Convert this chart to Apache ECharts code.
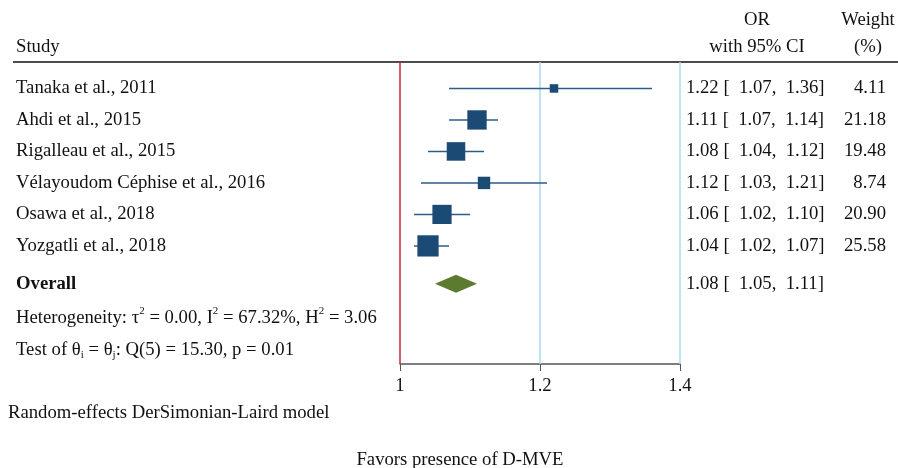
<!DOCTYPE html>
<html>
<head>
<meta charset="utf-8">
<script src="https://cdn.jsdelivr.net/npm/echarts@6/dist/echarts.min.js"></script>
<style>
  html, body { margin: 0; padding: 0; background: #fff; }
  #chart { width: 898px; height: 468px; }
</style>
</head>
<body>
<div id="chart"></div>
<script>
const studies = [
  'Tanaka et al., 2011',
  'Ahdi et al., 2015',
  'Rigalleau et al., 2015',
  'Vélayoudom Céphise et al., 2016',
  'Osawa et al., 2018',
  'Yozgatli et al., 2018'
];
const oddsRatios = [1.22, 1.11, 1.08, 1.12, 1.06, 1.04];
const lowerCI = [1.07, 1.07, 1.04, 1.03, 1.02, 1.02];
const upperCI = [1.36, 1.14, 1.12, 1.21, 1.10, 1.07];
const weights = [4.11, 21.18, 19.48, 8.74, 20.90, 25.58];
const rowPos = [1, 2, 3, 4, 5, 6];

const overallOR = 1.08;
const overallLo = 1.05;
const overallHi = 1.11;
const overallRow = 7.2;

const xTicks = [1, 1.2, 1.4];

const FONT = '"Liberation Serif", "Times New Roman", serif';
const FS = 18.7;
const SQUARE = '#1b4a74';
const CI_LINE = '#2c5d88';
const DIAMOND = '#5b7b2f';

const fmtCI = (o, l, h) => o.toFixed(2) + ' [  ' + l.toFixed(2) + ',  ' + h.toFixed(2) + ']';

const chart = echarts.init(document.getElementById('chart'));

const studyData = studies.map((s, i) => [oddsRatios[i], rowPos[i], lowerCI[i], upperCI[i], weights[i], i]);

function txt(text, x, y, align, bold) {
  return {
    type: 'text',
    style: { text: text, x: x, y: y, font: (bold ? 'bold ' : '') + FS + 'px ' + FONT,
      fill: '#111', textAlign: align, textVerticalAlign: 'middle' }
  };
}

function renderStudy(params, api) {
  const i = api.value(5);
  const c = api.coord([api.value(0), api.value(1)]);
  const lo = api.coord([api.value(2), api.value(1)]);
  const hi = api.coord([api.value(3), api.value(1)]);
  const size = 4.2 * Math.sqrt(api.value(4));
  return {
    type: 'group',
    children: [
      { type: 'line', shape: { x1: lo[0], y1: lo[1], x2: hi[0], y2: hi[1] },
        style: { stroke: CI_LINE, lineWidth: 1.5 } },
      { type: 'rect', shape: { x: c[0] - size / 2, y: c[1] - size / 2, width: size, height: size },
        style: { fill: SQUARE } },
      txt(studies[i], 16, c[1], 'left'),
      txt(fmtCI(oddsRatios[i], lowerCI[i], upperCI[i]), 686, c[1], 'left'),
      txt(weights[i].toFixed(2), 886, c[1], 'right')
    ]
  };
}

function renderOverall(params, api) {
  const y = api.value(1);
  const c = api.coord([api.value(0), y]);
  const lo = api.coord([api.value(2), y]);
  const hi = api.coord([api.value(3), y]);
  const h = 9;
  return {
    type: 'group',
    children: [
      { type: 'polygon', shape: { points: [[lo[0], c[1]], [c[0], c[1] - h], [hi[0], c[1]], [c[0], c[1] + h]] },
        style: { fill: DIAMOND } },
      txt('Overall', 16, c[1], 'left', true),
      txt(fmtCI(overallOR, overallLo, overallHi), 686, c[1], 'left')
    ]
  };
}

const option = {
  animation: false,
  backgroundColor: '#fff',
  grid: { left: 400, right: 218, top: 62, bottom: 104 },
  xAxis: {
    type: 'value',
    min: 1,
    max: 1.4,
    interval: 0.2,
    axisLine: { show: true, lineStyle: { color: '#555', width: 1.5 } },
    axisTick: { show: true, length: 7, lineStyle: { color: '#555' } },
    axisLabel: { color: '#111', fontFamily: FONT, fontSize: FS, margin: 13,
      formatter: v => xTicks.includes(+v.toFixed(1)) ? String(+v.toFixed(1)) : '' },
    splitLine: { show: false }
  },
  yAxis: {
    type: 'value',
    inverse: true,
    min: 0.16,
    max: 9.75,
    show: false
  },
  series: [
    {
      type: 'custom',
      renderItem: renderStudy,
      data: studyData,
      clip: false,
      z: 5,
      markLine: {
        silent: true,
        symbol: 'none',
        label: { show: false },
        data: [
          { xAxis: 1, lineStyle: { color: '#c8243f', width: 1.5, type: 'solid' } },
          { xAxis: 1.2, lineStyle: { color: '#a7d8ec', width: 1.5, type: 'solid' } },
          { xAxis: 1.4, lineStyle: { color: '#a7d8ec', width: 1.5, type: 'solid' } }
        ]
      }
    },
    {
      type: 'custom',
      renderItem: renderOverall,
      data: [[overallOR, overallRow, overallLo, overallHi]],
      clip: false,
      z: 5
    }
  ],
  graphic: [
    { type: 'line', shape: { x1: 13, y1: 62, x2: 898, y2: 62 }, style: { stroke: '#111', lineWidth: 1.5 } },
    txt('Study', 16, 47, 'left'),
    txt('OR', 757, 20, 'center'),
    txt('with 95% CI', 757, 47, 'center'),
    txt('Weight', 868, 20, 'center'),
    txt('(%)', 868, 47, 'center'),
    { type: 'text', style: {
      text: 'Heterogeneity: τ{sup|2} = 0.00, I{sup|2} = 67.32%, H{sup|2} = 3.06',
      x: 16, y: 318, font: FS + 'px ' + FONT, fill: '#111', textAlign: 'left', textVerticalAlign: 'middle',
      rich: { sup: { fontSize: 11, fontFamily: FONT, verticalAlign: 'top', lineHeight: 24, fill: '#111' } }
    } },
    { type: 'text', style: {
      text: 'Test of θ{sub|i} = θ{sub|j}: Q(5) = 15.30, p = 0.01',
      x: 16, y: 350, font: FS + 'px ' + FONT, fill: '#111', textAlign: 'left', textVerticalAlign: 'middle',
      rich: { sub: { fontSize: 11, fontFamily: FONT, verticalAlign: 'bottom', lineHeight: 22, fill: '#111' } }
    } },
    txt('Random-effects DerSimonian-Laird model', 8, 413, 'left'),
    txt('Favors presence of D-MVE', 460, 460, 'center')
  ]
};

chart.setOption(option);
</script>
</body>
</html>
